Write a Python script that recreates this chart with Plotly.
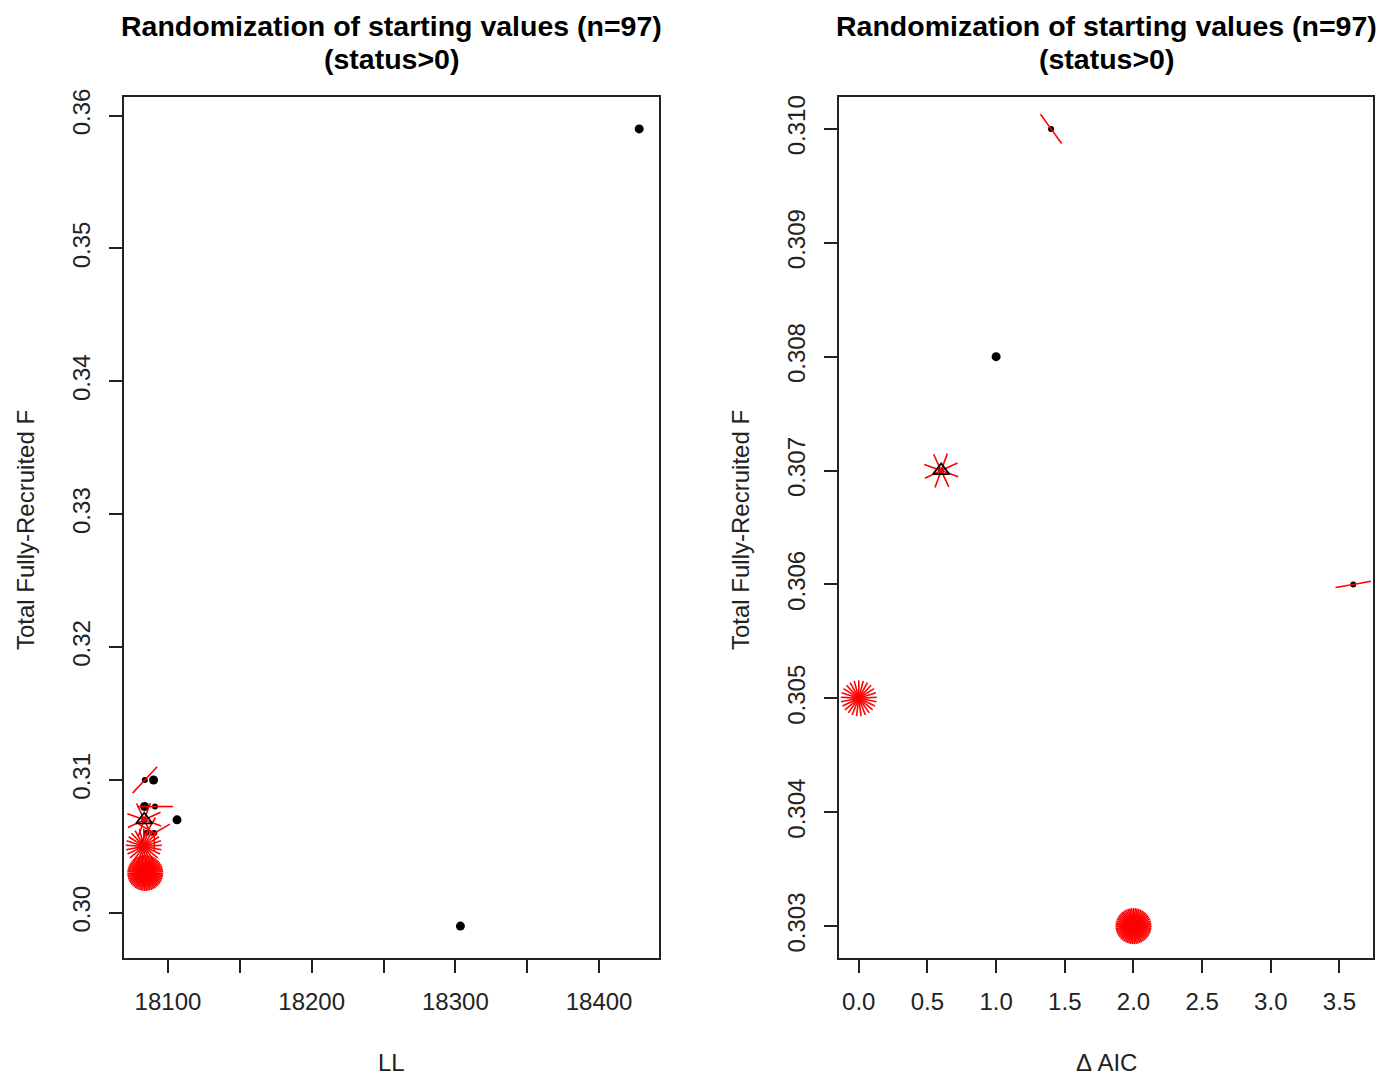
import math
import plotly.graph_objects as go

# ---------------- data ----------------
title_lines = ["Randomization of starting values (n=97)", "(status>0)"]
y_label = "Total Fully-Recruited F"

# Left panel: LL vs F (sunflower plot; count = number of identical runs)
ll_x = [18083.2, 18083.5, 18083.7, 18083.9, 18084.2, 18085.0, 18091.0, 18090.5, 18090.0, 18106.3, 18303.5, 18427.9]
ll_F = [0.305, 0.307, 0.308, 0.310, 0.303, 0.306, 0.308, 0.306, 0.310, 0.307, 0.299, 0.359]
ll_count = [25, 8, 1, 2, 59, 2, 2, 3, 1, 1, 1, 1]
ll_rot = [0, 20, 0, 43, 0, 30, 90, 60, 0, 0, 0, 0]
ll_best = (18083.5, 0.307)

# Right panel: delta AIC vs F
aic_x = [0.0, 0.6, 1.0, 1.4, 2.0, 3.6]
aic_F = [0.305, 0.307, 0.308, 0.310, 0.303, 0.306]
aic_count = [25, 8, 1, 2, 59, 2]
aic_rot = [0, 20, 0, 144, 0, 80]
aic_best = (0.6, 0.307)

ll_ticks = [18100, 18150, 18200, 18250, 18300, 18350, 18400]
ll_ticktext = ["18100", "", "18200", "", "18300", "", "18400"]
ll_yticks = [0.30, 0.31, 0.32, 0.33, 0.34, 0.35, 0.36]
aic_ticks = [0.0, 0.5, 1.0, 1.5, 2.0, 2.5, 3.0, 3.5]
aic_yticks = [0.303, 0.304, 0.305, 0.306, 0.307, 0.308, 0.309, 0.310]

# ---------------- layout geometry (reference pixel coords) ----------------
OFF = 8                      # page body margin
W, H = 1398 - 2 * OFF, 1078 - OFF
L1, R1 = 124, 659
L2, R2 = 839, 1373
TOP, BOT = 97, 958
FONT = "Liberation Sans, Arial, sans-serif"
PETAL_PX = 18


def px_x(v):
    return (v - OFF) / W


def px_y(v):
    return 1 - (v - OFF) / H


def padded(vals):
    lo, hi = min(vals), max(vals)
    d = (hi - lo) * 0.04
    return [lo - d, hi + d]


def petals(xs, ys, counts, rots, xrange_, yrange_, wpx, hpx):
    xr = PETAL_PX * (xrange_[1] - xrange_[0]) / wpx
    yr = PETAL_PX * (yrange_[1] - yrange_[0]) / hpx
    px, py = [], []
    for x, y, n, r in zip(xs, ys, counts, rots):
        if n < 2:
            continue
        for k in range(1, n + 1):
            a = math.radians(r + 360.0 * k / n)
            px += [x, x + xr * math.sin(a), None]
            py += [y, y + yr * math.cos(a), None]
    return px, py


fig = go.Figure()


def add_panel(xs, ys, counts, rots, best, xa, ya, xrange_, yrange_, wpx):
    single = [i for i, n in enumerate(counts) if n == 1]
    multi = [i for i, n in enumerate(counts) if n > 1]
    fig.add_trace(go.Scatter(x=[xs[i] for i in single], y=[ys[i] for i in single], mode="markers",
                             marker=dict(symbol="circle", size=9, color="black"),
                             xaxis=xa, yaxis=ya, showlegend=False))
    fig.add_trace(go.Scatter(x=[xs[i] for i in multi], y=[ys[i] for i in multi], mode="markers",
                             marker=dict(symbol="circle", size=6, color="black"),
                             xaxis=xa, yaxis=ya, showlegend=False))
    px, py = petals(xs, ys, counts, rots, xrange_, yrange_, wpx, BOT - TOP)
    fig.add_trace(go.Scatter(x=px, y=py, mode="lines", line=dict(color="#FF0000", width=1.6),
                             xaxis=xa, yaxis=ya, showlegend=False, hoverinfo="skip"))
    fig.add_trace(go.Scatter(x=[best[0]], y=[best[1]], mode="markers",
                             marker=dict(symbol="triangle-up-open", size=14, color="black",
                                         line=dict(width=1.8, color="black")),
                             xaxis=xa, yaxis=ya, showlegend=False))


xr1, yr1 = padded(ll_x), padded(ll_F)
xr2, yr2 = padded(aic_x), padded(aic_F)
add_panel(ll_x, ll_F, ll_count, ll_rot, ll_best, "x", "y", xr1, yr1, R1 - L1)
add_panel(aic_x, aic_F, aic_count, aic_rot, aic_best, "x2", "y2", xr2, yr2, R2 - L2)

axis_common = dict(showline=True, mirror=True, linecolor="#222", linewidth=1.5, ticks="outside",
                   ticklen=13, tickwidth=1.5, tickcolor="#222", showgrid=False, zeroline=False,
                   automargin=False, tickfont=dict(family=FONT, size=24, color="#222"))

ydom = [px_y(BOT), px_y(TOP)]
fig.update_layout(
    width=W, height=H, margin=dict(l=0, r=0, t=0, b=0, pad=0, autoexpand=False),
    showlegend=False,
    paper_bgcolor="white", plot_bgcolor="white",
    xaxis=dict(domain=[px_x(L1), px_x(R1)], range=xr1, anchor="y", tickmode="array",
               tickvals=ll_ticks, ticktext=ll_ticktext, ticklabelstandoff=8, **axis_common),
    yaxis=dict(domain=ydom, range=yr1, anchor="x", tickmode="array", tickvals=ll_yticks,
               ticktext=[f"{v:.2f}" for v in ll_yticks], tickangle=-90, ticklabelstandoff=10,
               **axis_common),
    xaxis2=dict(domain=[px_x(L2), px_x(R2)], range=xr2, anchor="y2", tickmode="array",
                tickvals=aic_ticks, ticktext=[f"{v:.1f}" for v in aic_ticks], ticklabelstandoff=8,
                **axis_common),
    yaxis2=dict(domain=ydom, range=yr2, anchor="x2", tickmode="array", tickvals=aic_yticks,
                ticktext=[f"{v:.3f}" for v in aic_yticks], tickangle=-90, ticklabelstandoff=10,
                **axis_common),
)

ann = []
for cx in [(L1 + R1) / 2, (L2 + R2) / 2]:
    for line, yy in zip(title_lines, [26, 59]):
        ann.append(dict(text="<b>" + line + "</b>", x=px_x(cx), y=px_y(yy),
                        xref="paper", yref="paper", showarrow=False, xanchor="center", yanchor="middle",
                        font=dict(family=FONT, size=28.5, color="black")))
ann.append(dict(text="LL", x=px_x((L1 + R1) / 2), y=px_y(1062), xref="paper", yref="paper",
                xanchor="center", yanchor="middle",
                showarrow=False, font=dict(family=FONT, size=24, color="#222")))
ann.append(dict(text="Δ AIC", x=px_x((L2 + R2) / 2), y=px_y(1062), xref="paper", yref="paper",
                xanchor="center", yanchor="middle",
                showarrow=False, font=dict(family=FONT, size=24, color="#222")))
for xx in [25, 740]:
    ann.append(dict(text=y_label, x=px_x(xx), y=px_y(530), xref="paper", yref="paper", textangle=-90,
                    xanchor="center", yanchor="middle",
                    showarrow=False, font=dict(family=FONT, size=24, color="#222")))
fig.update_layout(annotations=ann)

fig.write_html("out.html")
